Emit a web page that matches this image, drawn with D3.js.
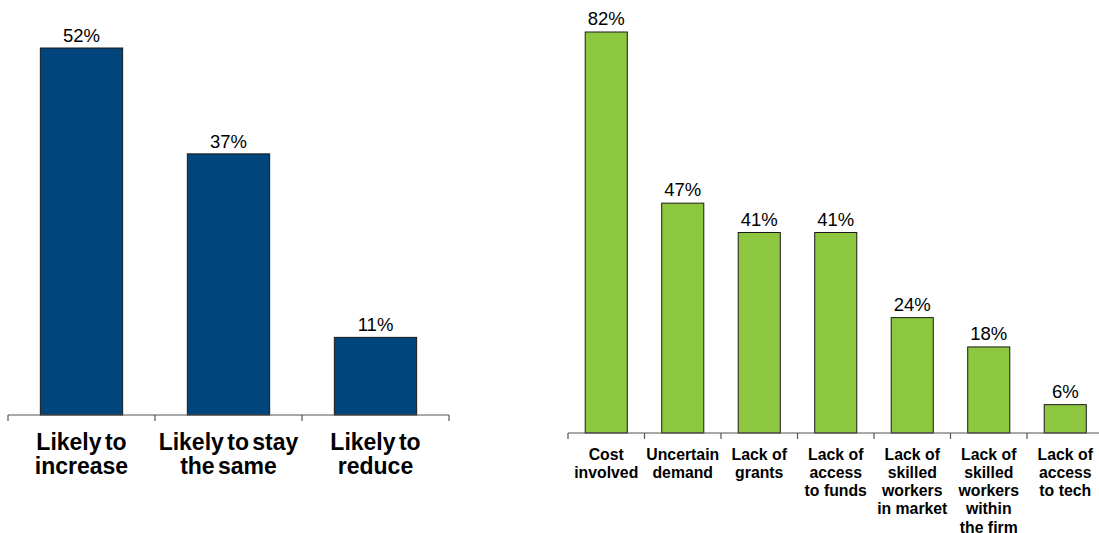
<!DOCTYPE html>
<html><head><meta charset="utf-8">
<script src="https://cdn.jsdelivr.net/npm/d3@7"></script>
<style>
html,body{margin:0;padding:0;background:#fff;}
text{font-family:"Liberation Sans",Arial,sans-serif;fill:#000;}
</style></head>
<body>
<svg id="c" width="1099" height="533"></svg>
<script>
// Left chart data
const leftCategories = ["Likely to|increase", "Likely to stay|the same", "Likely to|reduce"];
const leftValues = [52, 37, 11];
// Right chart data
const rightCategories = ["Cost|involved", "Uncertain|demand", "Lack of|grants", "Lack of|access|to funds",
  "Lack of|skilled|workers|in market", "Lack of|skilled|workers|within|the firm", "Lack of|access|to tech"];
const rightValues = [82, 47, 41, 41, 23.6, 17.6, 5.8];

const svg = d3.select("#c");
const fmt = v => Math.round(v) + "%";

function drawChart(cfg) {
  const g = svg.append("g");
  const x = d3.scaleBand().domain(cfg.cats).range([cfg.x0, cfg.x1]).paddingInner(cfg.pad).paddingOuter(cfg.pad / 2);
  const xb = d3.scaleBand().domain(cfg.cats).range([cfg.x0, cfg.x1]);
  const y = d3.scaleLinear().domain([0, cfg.yMax]).range([cfg.base, cfg.top]);
  g.selectAll("rect").data(cfg.vals).join("rect")
    .attr("x", (d, i) => x(cfg.cats[i]))
    .attr("width", x.bandwidth())
    .attr("y", d => y(d))
    .attr("height", d => cfg.base - y(d))
    .attr("fill", cfg.color)
    .attr("stroke", "#1a1a1a").attr("stroke-width", 1);
  g.selectAll("text.v").data(cfg.vals).join("text").attr("class", "v")
    .attr("x", (d, i) => x(cfg.cats[i]) + x.bandwidth() / 2)
    .attr("y", d => y(d) - cfg.vGap)
    .attr("text-anchor", "middle")
    .style("font-size", cfg.vSize + "px")
    .text(fmt);
  // axis
  const ax = g.append("g").attr("transform", `translate(0,${cfg.base})`);
  ax.append("line").attr("x1", cfg.x0).attr("x2", cfg.x1).attr("stroke", "#555").attr("stroke-width", 1.2);
  const ticks = cfg.cats.map(c => xb(c)).concat([cfg.x1]);
  ax.selectAll("line.t").data(ticks).join("line").attr("class", "t")
    .attr("x1", d => d).attr("x2", d => d).attr("y1", 0).attr("y2", 6)
    .attr("stroke", "#555").attr("stroke-width", 1.2);
  const lab = g.selectAll("text.c").data(cfg.cats).join("text").attr("class", "c")
    .attr("text-anchor", "middle")
    .style("font-size", cfg.cSize + "px").style("font-weight", "bold")
    .style("word-spacing", cfg.ws + "px");
  lab.each(function (c) {
    const t = d3.select(this);
    c.split("|").forEach((line, k) => {
      t.append("tspan").attr("x", xb(c) + xb.bandwidth() / 2)
        .attr("y", cfg.base + cfg.cY + k * cfg.lh).text(line);
    });
  });
}

drawChart({cats: leftCategories, vals: leftValues, x0: 8, x1: 449, pad: 0.44, base: 415, top: 48, yMax: 52,
  color: "#00457c", vGap: 6, vSize: 18.5, cSize: 23, cY: 34.5, lh: 24.5, ws: -3});
drawChart({cats: rightCategories, vals: rightValues, x0: 568, x1: 1103.5, pad: 0.45, base: 433, top: 32, yMax: 82,
  color: "#8dc63f", vGap: 7, vSize: 18.5, cSize: 15.8, cY: 26.5, lh: 18.3, ws: 0});
</script>
</body></html>
